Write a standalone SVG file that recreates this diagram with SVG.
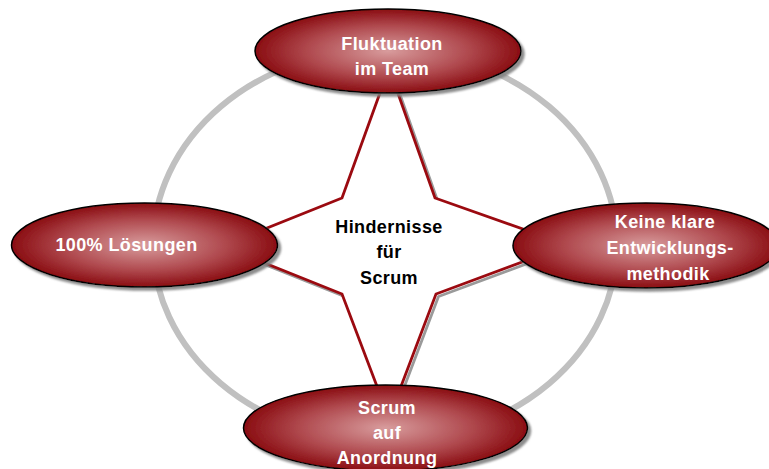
<svg xmlns="http://www.w3.org/2000/svg" width="769" height="469" viewBox="0 0 769 469">
  <defs>
    <radialGradient id="redGrad" cx="50%" cy="50%" r="50%">
      <stop offset="0" stop-color="#d89c9d"/>
      <stop offset="0.6" stop-color="#b04a4f"/>
      <stop offset="1" stop-color="#8a0d12"/>
    </radialGradient>
    <filter id="shadow" x="-10%" y="-20%" width="125%" height="150%">
      <feGaussianBlur in="SourceAlpha" stdDeviation="1"/>
      <feOffset dx="2.5" dy="3" result="off"/>
      <feFlood flood-color="#808080" flood-opacity="0.9"/>
      <feComposite in2="off" operator="in" result="sh"/>
      <feMerge>
        <feMergeNode in="sh"/>
        <feMergeNode in="SourceGraphic"/>
      </feMerge>
    </filter>
  </defs>
  <style>
    .ring { fill: none; stroke: #c0c0c0; stroke-width: 6; }
    .star-shadow { fill: none; stroke: #9a9a9a; stroke-width: 2.8; stroke-linejoin: miter; }
    .star { fill: #ffffff; stroke: #9b0a10; stroke-width: 2.8; stroke-linejoin: miter; }
    .node { fill: url(#redGrad); stroke: #000000; stroke-width: 1.5; filter: url(#shadow); }
    .lbl { font-family: "Liberation Sans", Arial, sans-serif; font-weight: bold; font-size: 18px; letter-spacing: 0.4px; fill: #ffffff; text-anchor: middle; }
    .center { font-family: "Liberation Sans", Arial, sans-serif; font-weight: bold; font-size: 18px; letter-spacing: 0.4px; fill: #000000; text-anchor: middle; }
  </style>
  <rect width="769" height="469" fill="#ffffff"/>
  <g id="connectors">
    <ellipse class="ring" cx="385" cy="245" rx="232" ry="196"/>
    <polygon class="star-shadow" transform="translate(2.5,2.5)" points="389,68 435,198 568,245 436,294 389,418 342,294 222,246 342,198"/>
    <polygon class="star" points="389,68 435,198 568,245 436,294 389,418 342,294 222,246 342,198"/>
  </g>
  <g id="center">
    <text class="center" x="389" y="233">Hindernisse</text>
    <text class="center" x="389" y="258">für</text>
    <text class="center" x="389" y="284">Scrum</text>
  </g>
  <g id="node-top">
    <ellipse class="node" cx="388" cy="51" rx="133" ry="42"/>
    <text class="lbl" x="392" y="50">Fluktuation</text>
    <text class="lbl" x="392" y="75">im Team</text>
  </g>
  <g id="node-left">
    <ellipse class="node" cx="144.5" cy="245" rx="133" ry="42"/>
    <text class="lbl" x="126.5" y="251">100% Lösungen</text>
  </g>
  <g id="node-right">
    <ellipse class="node" cx="646" cy="245.5" rx="133" ry="42.5"/>
    <text class="lbl" x="665" y="228">Keine klare</text>
    <text class="lbl" x="670" y="254">Entwicklungs-</text>
    <text class="lbl" x="668" y="280">methodik</text>
  </g>
  <g id="node-bottom">
    <ellipse class="node" cx="385.5" cy="428" rx="142" ry="43"/>
    <text class="lbl" x="387" y="414">Scrum</text>
    <text class="lbl" x="387" y="439">auf</text>
    <text class="lbl" x="387" y="464">Anordnung</text>
  </g>
</svg>
